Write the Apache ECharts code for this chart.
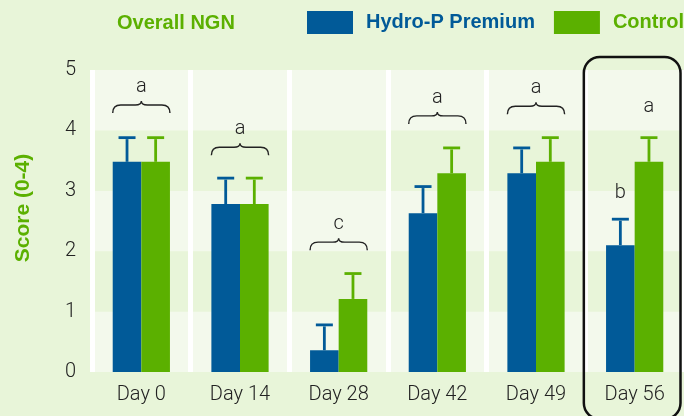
<!DOCTYPE html>
<html>
<head>
<meta charset="utf-8">
<script src="https://cdn.jsdelivr.net/npm/echarts@6/dist/echarts.min.js"></script>
<style>
html,body{margin:0;padding:0;background:#e8f5d9;}
#chart{width:684px;height:416px;}
</style>
</head>
<body>
<div id="chart"></div>
<script>
// ---- data ----
const categories = ['Day 0', 'Day 14', 'Day 28', 'Day 42', 'Day 49', 'Day 56'];
const hydroValues = [3.48, 2.78, 0.36, 2.63, 3.29, 2.10];
const controlValues = [3.48, 2.78, 1.21, 3.29, 3.48, 3.48];
const hydroErrors = [0.40, 0.43, 0.42, 0.44, 0.42, 0.43];
const controlErrors = [0.40, 0.43, 0.42, 0.42, 0.40, 0.40];
const braceCategories = [0, 1, 2, 3, 4];
const braceLevels = [4.42, 3.72, 2.15, 4.24, 4.40];
const braceLetters = ['a', 'a', 'c', 'a', 'a'];
const soloCategories = [5, 5];
const soloSides = [-1, 1];
const soloLevels = [2.96, 4.39];
const soloLetters = ['b', 'a'];
const highlightCategory = [5];
const yTicks = [0, 1, 2, 3, 4, 5];

// ---- style ----
const BLUE = '#015a98';
const GREEN = '#5bb000';
const CAT_GAP = 0.42;
const LIGHT_FONT = '300 20px Roboto, "Liberation Sans", sans-serif';

function barOffset(api, side) {
  const band = api.size([1, 0])[0];
  const bw = band * (1 - CAT_GAP) / 2;
  return { bw: bw, off: side * bw / 2 };
}

function errRender(side, color) {
  return function (params, api) {
    const ci = api.value(0), v = api.value(1), e = api.value(2);
    const o = barOffset(api, side);
    const cx = api.coord([ci, 0])[0] + o.off;
    const yBase = api.coord([ci, v])[1];
    const yTop = api.coord([ci, v + e])[1];
    return {
      type: 'group',
      children: [
        { type: 'line', shape: { x1: cx, y1: yBase, x2: cx, y2: yTop + 1.5 }, style: { stroke: color, lineWidth: 2.8 } },
        { type: 'line', shape: { x1: cx - 8.5, y1: yTop, x2: cx + 8.5, y2: yTop }, style: { stroke: color, lineWidth: 2.8 } }
      ]
    };
  };
}

function braceRender(params, api) {
  const ci = api.value(0), lvl = api.value(1);
  const idx = params.dataIndex;
  const band = api.size([1, 0])[0];
  const half = band * (1 - CAT_GAP) / 2;
  const c = api.coord([ci, lvl]);
  const xm = c[0], y = c[1];
  const x1 = xm - half, x2 = xm + half;
  const path = 'M' + x1 + ',' + (y + 8) +
    ' Q' + x1 + ',' + y + ' ' + (x1 + 8) + ',' + y +
    ' L' + (xm - 6) + ',' + y +
    ' Q' + xm + ',' + y + ' ' + xm + ',' + (y - 4) +
    ' Q' + xm + ',' + y + ' ' + (xm + 6) + ',' + y +
    ' L' + (x2 - 8) + ',' + y +
    ' Q' + x2 + ',' + y + ' ' + x2 + ',' + (y + 8);
  return {
    type: 'group',
    children: [
      { type: 'path', shape: { pathData: path }, style: { stroke: '#222', lineWidth: 1.4, fill: null } },
      { type: 'text', x: xm, y: y - 18, style: { text: braceLetters[idx], font: LIGHT_FONT, fill: '#222', align: 'center', verticalAlign: 'middle' } }
    ]
  };
}

function soloRender(params, api) {
  const ci = api.value(0), side = api.value(1), lvl = api.value(2);
  const o = barOffset(api, side);
  const c = api.coord([ci, lvl]);
  return {
    type: 'text', x: c[0] + o.off, y: c[1],
    style: { text: soloLetters[params.dataIndex], font: LIGHT_FONT, fill: '#222', align: 'center', verticalAlign: 'middle' }
  };
}

function highlightRender(params, api) {
  const ci = api.value(0);
  const band = api.size([1, 0])[0];
  const cx = api.coord([ci, 0])[0];
  const yTop = api.coord([ci, 5])[1] - 13;
  const x1 = cx - band / 2 - 1.5;
  const x2 = cx + band / 2 - 3.5;
  return {
    type: 'rect',
    shape: { x: x1, y: yTop, width: x2 - x1, height: 419 - yTop, r: 16 },
    style: { stroke: '#111', lineWidth: 2.5, fill: null }
  };
}

const chart = echarts.init(document.getElementById('chart'), null, { renderer: 'canvas' });
chart.setOption({
  backgroundColor: '#e8f5d9',
  animation: false,
  title: {
    text: 'Overall NGN',
    left: 117, top: 12, padding: 0,
    textStyle: { color: GREEN, fontFamily: '"Liberation Sans", sans-serif', fontWeight: 'bold', fontSize: 20, lineHeight: 22 }
  },
  legend: {
    left: 307, top: 11, padding: 0, width: 600,
    orient: 'horizontal',
    itemWidth: 46, itemHeight: 23, itemGap: 19,
    icon: 'rect',
    data: [
      { name: 'Hydro-P Premium', textStyle: { color: BLUE } },
      { name: 'Control', textStyle: { color: GREEN } }
    ],
    textStyle: { fontFamily: '"Liberation Sans", sans-serif', fontWeight: 'bold', fontSize: 20, padding: [0, 0, 0, 8] }
  },
  grid: { left: 92, right: 0, top: 70, bottom: 44 },
  xAxis: {
    type: 'category',
    data: categories,
    axisLine: { show: false },
    axisTick: { show: false },
    splitLine: { show: true, interval: 0, lineStyle: { color: '#ffffff', width: 5 } },
    axisLabel: { interval: 0, margin: 13, color: '#222', fontFamily: 'Roboto, sans-serif', fontWeight: 300, fontSize: 20 }
  },
  yAxis: {
    type: 'value',
    min: yTicks[0], max: yTicks[yTicks.length - 1], interval: 1,
    name: 'Score (0-4)',
    nameLocation: 'middle',
    nameRotate: 90,
    nameGap: 58,
    nameTextStyle: { color: GREEN, fontFamily: '"Liberation Sans", sans-serif', fontWeight: 'bold', fontSize: 21, padding: [0, 0, 0, 26] },
    axisLine: { show: false },
    axisTick: { show: false },
    splitLine: { show: false },
    splitArea: { show: true, areaStyle: { color: ['#f3f9ec', '#e8f5d9'] } },
    axisLabel: { margin: 16, color: '#222', fontFamily: 'Roboto, sans-serif', fontWeight: 300, fontSize: 20, verticalAlign: 'middle', padding: [0, 0, 15, 0] }
  },
  series: [
    { name: 'Hydro-P Premium', type: 'bar', data: hydroValues, barGap: '0%', barCategoryGap: '42%', itemStyle: { color: BLUE } },
    { name: 'Control', type: 'bar', data: controlValues, barGap: '0%', barCategoryGap: '42%', itemStyle: { color: GREEN } },
    { name: 'errH', type: 'custom', renderItem: errRender(-1, BLUE), data: hydroValues.map((v, i) => [i, v, hydroErrors[i]]), z: 3 },
    { name: 'errC', type: 'custom', renderItem: errRender(1, GREEN), data: controlValues.map((v, i) => [i, v, controlErrors[i]]), z: 3 },
    { name: 'braces', type: 'custom', renderItem: braceRender, data: braceCategories.map((c, i) => [c, braceLevels[i]]), z: 4 },
    { name: 'letters', type: 'custom', renderItem: soloRender, data: soloCategories.map((c, i) => [c, soloSides[i], soloLevels[i]]), z: 4 },
    { name: 'highlight', type: 'custom', renderItem: highlightRender, data: highlightCategory.map(c => [c]), z: 5, clip: false }
  ]
});
</script>
</body>
</html>
